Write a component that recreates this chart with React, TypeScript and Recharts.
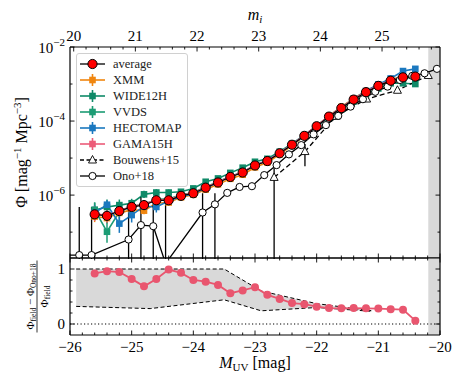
import React from "react";
import {
  ComposedChart,
  Line,
  Area,
  XAxis,
  YAxis,
  ErrorBar,
  ReferenceArea,
  ReferenceLine,
} from "recharts";

const FONT = "'Liberation Serif', 'DejaVu Serif', serif";

// ---- field luminosity functions (log10 Phi), bins in M_UV ----
const magBins = [
  -25.6, -25.4, -25.2, -25.0, -24.8, -24.6, -24.4, -24.2, -24.0, -23.8, -23.6, -23.4, -23.2, -23.0,
  -22.8, -22.6, -22.4, -22.2, -22.0, -21.8, -21.6, -21.4, -21.2, -21.0, -20.8, -20.6, -20.4,
];
const logAverage = [
  -6.52, -6.56, -6.43, -6.32, -6.27, -6.14, -6.14, -6.02, -5.95, -5.8, -5.66, -5.51, -5.39, -5.2,
  -5.08, -4.87, -4.64, -4.4, -4.14, -3.88, -3.65, -3.42, -3.22, -3.05, -2.91, -2.82, -2.8,
];
const logXMM = [
  -6.58, -6.62, -6.48, -6.4, -6.42, -6.22, -6.2, -6.06, -5.99, -5.85, -5.71, -5.56, -5.45, -5.25,
  -5.12, -4.9, -4.66, -4.41, -4.13, -3.86, -3.62, -3.39, -3.19, -3.02, -2.88, -2.8, -2.79,
];
const logWIDE12H = [
  -6.4, -6.32, -6.27, -6.22, -5.98, -5.93, -5.93, -5.91, -5.82, -5.64, -5.55, -5.4, -5.26, -5.1,
  -5.02, -4.83, -4.61, -4.38, -4.13, -3.89, -3.68, -3.47, -3.28, -3.12, -2.98, -2.98, -3.0,
];
const logVVDS = [
  -6.4, -6.99, -6.45, -6.3, -6.25, -6.12, -6.1, -6.0, -5.93, -5.78, -5.64, -5.5, -5.38, -5.19,
  -5.07, -4.86, -4.64, -4.4, -4.15, -3.89, -3.66, -3.43, -3.23, -3.06, -2.92, -2.84, -2.82,
];
const logHECTOMAP = [
  -6.48, -6.26, -6.77, -6.54, -6.3, -6.32, -6.16, -6.04, -5.97, -5.81, -5.66, -5.5, -5.38, -5.19,
  -5.06, -4.86, -4.63, -4.39, -4.13, -3.87, -3.63, -3.4, -3.19, -3.01, -2.85, -2.65, -2.59,
];
const logGAMA15H = [
  -6.5, -6.55, -6.42, -6.3, -6.25, -6.13, -6.12, -6.01, -5.94, -5.79, -5.65, -5.5, -5.38, -5.19,
  -5.07, -4.86, -4.63, -4.39, -4.13, -3.87, -3.64, -3.41, -3.21, -3.04, -2.9, -2.81, -2.79,
];
// errors in dex
const errXMM = [
  0.15, 0.15, 0.12, 0.12, 0.1, 0.09, 0.08, 0.07, 0.06, 0.05, 0.05, 0.04, 0.04, 0.03, 0.03, 0.03,
  0.02, 0.02, 0.02, 0.02, 0.02, 0.02, 0.02, 0.02, 0.02, 0.03, 0.04,
];
const errWIDE12H = [
  0.2, 0.2, 0.15, 0.12, 0.1, 0.09, 0.08, 0.07, 0.06, 0.05, 0.05, 0.04, 0.04, 0.04, 0.03, 0.03, 0.03,
  0.02, 0.02, 0.02, 0.02, 0.02, 0.02, 0.03, 0.03, 0.04, 0.05,
];
const errVVDS = [
  0.2, 0.3, 0.25, 0.15, 0.12, 0.1, 0.09, 0.08, 0.07, 0.06, 0.05, 0.05, 0.04, 0.04, 0.03, 0.03, 0.03,
  0.03, 0.02, 0.02, 0.02, 0.02, 0.03, 0.03, 0.04, 0.05, 0.06,
];
const errHECTOMAP = [
  0.2, 0.12, 0.25, 0.2, 0.15, 0.15, 0.1, 0.08, 0.07, 0.06, 0.05, 0.05, 0.04, 0.04, 0.03, 0.03, 0.03,
  0.02, 0.02, 0.02, 0.02, 0.02, 0.03, 0.03, 0.04, 0.05, 0.06,
];
const errGAMA15H = [
  0.2, 0.2, 0.15, 0.12, 0.1, 0.09, 0.08, 0.07, 0.06, 0.05, 0.05, 0.04, 0.04, 0.04, 0.03, 0.03, 0.03,
  0.02, 0.02, 0.02, 0.02, 0.02, 0.02, 0.03, 0.03, 0.04, 0.05,
];

// ---- Ono+18 (log10 Phi, with error bounds; -14 = runs off the axis) ----
const onoMag = [
  -26.05, -25.85, -25.65, -25.45, -25.25, -25.05, -24.85, -24.65, -24.45, -24.25, -24.05, -23.85,
  -23.65, -23.45, -23.25, -23.05, -22.85, -22.65, -22.45, -22.25, -22.05, -21.85, -21.65, -21.45,
  -21.25, -21.05, -20.85, -20.65, -20.45, -20.25, -20.05,
];
const onoLog = [
  -7.62, -7.62, -7.62, null, null, -7.2, -6.81, -6.84, -7.85, null, null, -6.47, -6.25, -5.94,
  -5.78, -5.76, -5.46, -5.19, -4.9, -4.65, -4.36, -4.11, -3.86, -3.61, -3.41, -3.21, -3.07, -2.89,
  -2.78, -2.71, -2.59,
];
const onoLogHi = [
  -7.62, -6.32, -6.32, null, null, -6.3, -6.05, -6.05, -6.14, null, null, -5.95, -5.95, -5.9,
  -5.74, -5.72, -5.43, -5.16, -4.88, -4.63, -4.34, -4.09, -3.84, -3.59, -3.39, -3.19, -3.05, -2.87,
  -2.76, -2.69, -2.57,
];
const onoLogLo = [
  -7.62, -14, -14, null, null, -14, -14, -14, -14, null, null, -14, -14, -5.98, -5.82, -5.8, -5.49,
  -5.22, -4.92, -4.67, -4.38, -4.13, -3.88, -3.63, -3.43, -3.23, -3.09, -2.91, -2.8, -2.73, -2.61,
];

// ---- Bouwens+15 ----
const bouwensMag = [-22.69, -22.19, -21.69, -21.19, -20.69, -20.19];
const bouwensPhi = [3.0e-6, 1.5e-5, 1.34e-4, 3.93e-4, 6.78e-4, 1.696e-3];
const bouwensErr = [4.0e-6, 9.0e-6, 2.3e-5, 4.0e-5, 6.3e-5, 1.13e-4];

// ---- lower panel ----
const ratioValues = [
  0.92, 0.96, 0.945, 0.82, 0.685, 0.82, 0.99, 0.93, 0.8, 0.77, 0.71, 0.56, 0.61, 0.67, 0.53, 0.455,
  0.38, 0.36, 0.315, 0.29, 0.285, 0.29, 0.285, 0.28, 0.27, 0.26, 0.06,
];
const bandMag = [-25.9, -24.7, -23.5, -22.9, -22.0, -21.1];
const bandUpper = [1.0, 1.0, 1.0, 0.6, 0.37, 0.24];
const bandLower = [0.32, 0.28, 0.44, 0.24, 0.3, 0.23];

// ---- ticks ----
const absMagTicks = [-26, -25, -24, -23, -22, -21, -20];
const appMagTicks = [20, 21, 22, 23, 24, 25];
const MAG_SHIFT = 45.94; // m_i = M_UV + MAG_SHIFT
const phiTicks = [1e-6, 1e-4, 1e-2];
const phiTicksAll = [1e-7, 1e-6, 1e-5, 1e-4, 1e-3, 1e-2];
const ratioTicks = [0, 1];
const ratioTicksAll = [0, 0.2, 0.4, 0.6, 0.8, 1];

const PHI_MIN = 2.0e-8;
const PHI_MAX = 1e-2;
const GRAY = "#d9d9d9";

const COLORS = {
  xmm: "#f0860f",
  wide: "#0f8a68",
  vvds: "#1c9c74",
  hecto: "#1b78bf",
  gama: "#ec5c78",
  ratio: "#e9566f",
};

const absMinorTicks = Array.from({ length: 31 }, (_, i) => Math.round((-26 + i * 0.2) * 10) / 10);
const appMinorTicks = Array.from({ length: 30 }, (_, i) => Math.round((20 + i * 0.2) * 10) / 10 - MAG_SHIFT);

const toPhi = (l: number) => Math.pow(10, l);
const errPair = (l: number, e: number) => [toPhi(l) - toPhi(l - e), toPhi(l + e) - toPhi(l)];

const fieldRows = magBins.map((M, i) => ({
  M,
  avg: toPhi(logAverage[i]),
  xmm: toPhi(logXMM[i]),
  xmmErr: errPair(logXMM[i], errXMM[i]),
  wide: toPhi(logWIDE12H[i]),
  wideErr: errPair(logWIDE12H[i], errWIDE12H[i]),
  vvds: toPhi(logVVDS[i]),
  vvdsErr: errPair(logVVDS[i], errVVDS[i]),
  hecto: toPhi(logHECTOMAP[i]),
  hectoErr: errPair(logHECTOMAP[i], errHECTOMAP[i]),
  gama: toPhi(logGAMA15H[i]),
  gamaErr: errPair(logGAMA15H[i], errGAMA15H[i]),
}));

const onoRows = onoMag.map((M, i) => {
  const l = onoLog[i];
  if (l === null) return { M, phi: null, err: [0, 0] };
  const phi = toPhi(l);
  return {
    M,
    phi,
    err: [phi - toPhi(onoLogLo[i] as number), toPhi(onoLogHi[i] as number) - phi],
  };
});

const bouwensRows = bouwensMag.map((M, i) => {
  const phi = bouwensPhi[i];
  const lo = Math.min(bouwensErr[i], phi * (1 - 1e-8));
  return { M, phi, err: [lo, bouwensErr[i]] };
});

const ratioRows = magBins.map((M, i) => ({ M, ratio: ratioValues[i] }));
const bandRows = bandMag.map((M, i) => ({ M, range: [bandLower[i], bandUpper[i]] }));

const fields = [
  { key: "xmm", label: "XMM", color: COLORS.xmm },
  { key: "wide", label: "WIDE12H", color: COLORS.wide },
  { key: "vvds", label: "VVDS", color: COLORS.vvds },
  { key: "hecto", label: "HECTOMAP", color: COLORS.hecto },
  { key: "gama", label: "GAMA15H", color: COLORS.gama },
];

// ---- tick renderers (ticks point inward, matplotlib style) ----
const TICK_MAJOR = 4.5;
const TICK_MINOR = 2.5;
const near = (a: number, b: number) => Math.abs(a - b) < 1e-6;
const nearLog = (a: number, b: number) => Math.abs(Math.log10(a) - Math.log10(b)) < 1e-6;
const minus = (v: number) => (v < 0 ? `\u2212${Math.abs(v)}` : `${v}`);
const tickStroke = { stroke: "#000", strokeWidth: 0.9 };

const bottomTick = (showLabel: boolean) => (p: any) => {
  const v = p.payload.value;
  const major = absMagTicks.some((t) => near(t, v));
  return (
    <g>
      <line x1={p.x} x2={p.x} y1={p.y} y2={p.y - (major ? TICK_MAJOR : TICK_MINOR)} {...tickStroke} />
      {showLabel && major && (
        <text x={p.x} y={p.y + 17} textAnchor="middle" fontFamily={FONT} fontSize={15} fill="#000">
          {minus(v)}
        </text>
      )}
    </g>
  );
};

const topTick = (showLabel: boolean, majors: number[]) => (p: any) => {
  const v = p.payload.value;
  const major = majors.some((t) => near(t, v));
  return (
    <g>
      <line x1={p.x} x2={p.x} y1={p.y} y2={p.y + (major ? TICK_MAJOR : TICK_MINOR)} {...tickStroke} />
      {showLabel && major && (
        <text x={p.x} y={p.y - 6} textAnchor="middle" fontFamily={FONT} fontSize={15} fill="#000">
          {Math.round(v + MAG_SHIFT)}
        </text>
      )}
    </g>
  );
};

const logTick = (side: "left" | "right") => (p: any) => {
  const v = p.payload.value;
  const major = phiTicks.some((t) => nearLog(t, v));
  const len = major ? TICK_MAJOR : TICK_MINOR;
  const dir = side === "left" ? 1 : -1;
  return (
    <g>
      <line x1={p.x} x2={p.x + dir * len} y1={p.y} y2={p.y} {...tickStroke} />
      {side === "left" && major && (
        <text x={p.x - 5} y={p.y + 6} textAnchor="end" fontFamily={FONT} fontSize={15} fill="#000">
          10
          <tspan dy={-7} fontSize={11}>
            {minus(Math.round(Math.log10(v)))}
          </tspan>
        </text>
      )}
    </g>
  );
};

const ratioTick = (side: "left" | "right") => (p: any) => {
  const v = p.payload.value;
  const major = ratioTicks.some((t) => near(t, v));
  const len = major ? TICK_MAJOR : TICK_MINOR;
  const dir = side === "left" ? 1 : -1;
  return (
    <g>
      <line x1={p.x} x2={p.x + dir * len} y1={p.y} y2={p.y} {...tickStroke} />
      {side === "left" && major && (
        <text x={p.x - 5} y={p.y + 5} textAnchor="end" fontFamily={FONT} fontSize={15} fill="#000">
          {v}
        </text>
      )}
    </g>
  );
};

// ---- markers ----
const squareDot = (color: string) => (p: any) => {
  if (p.cy == null || Number.isNaN(p.cy)) return <g key={p.key} />;
  return <rect key={p.key} x={p.cx - 3.3} y={p.cy - 3.3} width={6.6} height={6.6} fill={color} />;
};
const circleDot = (p: any) => {
  if (p.cy == null || Number.isNaN(p.cy) || p.payload.M < -26) return <g key={p.key} />;
  return <circle key={p.key} cx={p.cx} cy={p.cy} r={3.6} fill="#fff" stroke="#000" strokeWidth={1} />;
};
const triangleDot = (p: any) => {
  if (p.cy == null || Number.isNaN(p.cy)) return <g key={p.key} />;
  const { cx, cy } = p;
  return (
    <polygon
      key={p.key}
      points={`${cx},${cy - 4.5} ${cx - 4},${cy + 3} ${cx + 4},${cy + 3}`}
      fill="#fff"
      stroke="#000"
      strokeWidth={0.9}
    />
  );
};

const axisLine = { stroke: "#000", strokeWidth: 1.2 };

function Swatch({ kind, color }: { kind: string; color?: string }) {
  return (
    <svg width={26} height={16} style={{ display: "block" }}>
      {kind === "avg" && (
        <>
          <line x1={0} x2={25} y1={8} y2={8} stroke="#000" strokeWidth={1.3} />
          <circle cx={12.5} cy={8} r={4.6} fill="#ff0000" stroke="#000" strokeWidth={1} />
        </>
      )}
      {kind === "field" && (
        <>
          <line x1={0} x2={25} y1={8} y2={8} stroke={color} strokeWidth={1.6} />
          <line x1={12.5} x2={12.5} y1={2} y2={14} stroke={color} strokeWidth={1.6} />
          <rect x={9.2} y={4.7} width={6.6} height={6.6} fill={color} />
        </>
      )}
      {kind === "bouwens" && (
        <>
          <line x1={0} x2={25} y1={8} y2={8} stroke="#000" strokeWidth={1.3} strokeDasharray="4 2.5" />
          <polygon points="12.5,3.5 8.5,11 16.5,11" fill="#fff" stroke="#000" strokeWidth={0.9} />
        </>
      )}
      {kind === "ono" && (
        <>
          <line x1={0} x2={25} y1={8} y2={8} stroke="#000" strokeWidth={1.3} />
          <circle cx={12.5} cy={8} r={3.6} fill="#fff" stroke="#000" strokeWidth={1} />
        </>
      )}
    </svg>
  );
}

function LegendBox() {
  const rows = [
    { label: "average", kind: "avg" },
    ...fields.map((f) => ({ label: f.label, kind: "field", color: f.color })),
    { label: "Bouwens+15", kind: "bouwens" },
    { label: "Ono+18", kind: "ono" },
  ];
  return (
    <div
      style={{
        position: "absolute",
        left: 76,
        top: 52.5,
        width: 112,
        height: 134,
        boxSizing: "border-box",
        border: "1px solid #d0d0d0",
        borderRadius: 3,
        background: "rgba(255,255,255,0.85)",
        padding: "2px 0 0 3px",
        fontFamily: FONT,
        fontSize: 12.5,
        color: "#222",
      }}
    >
      {rows.map((r) => (
        <div key={r.label} style={{ display: "flex", alignItems: "center", height: 16 }}>
          <Swatch kind={r.kind} color={(r as any).color} />
          <span style={{ marginLeft: 7, lineHeight: "16px" }}>{r.label}</span>
        </div>
      ))}
    </div>
  );
}

const phiLabel = ({ viewBox }: any) => {
  const x = viewBox.x + 27;
  const y = viewBox.y + viewBox.height / 2;
  return (
    <text
      x={x}
      y={y}
      transform={`rotate(-90 ${x} ${y})`}
      textAnchor="middle"
      fontFamily={FONT}
      fontSize={16}
      fill="#000"
    >
      Φ [mag
      <tspan dy={-6} fontSize={11}>
        −1
      </tspan>
      <tspan dy={6}> Mpc</tspan>
      <tspan dy={-6} fontSize={11}>
        −3
      </tspan>
      <tspan dy={6}>]</tspan>
    </text>
  );
};

const ratioLabel = ({ viewBox }: any) => {
  const x = viewBox.x + 37;
  const y = viewBox.y + viewBox.height / 2;
  return (
    <g transform={`translate(${x} ${y}) rotate(-90)`} fontFamily={FONT} fill="#000">
      <text x={0} y={-3} textAnchor="middle" fontSize={11}>
        Φ<tspan fontSize={7.5} dy={2}>field</tspan>
        <tspan dy={-2}> − Φ</tspan>
        <tspan fontSize={7.5} dy={2}>Ono+18</tspan>
      </text>
      <line x1={-36} x2={36} y1={0} y2={0} stroke="#000" strokeWidth={0.8} />
      <text x={0} y={11} textAnchor="middle" fontSize={11}>
        Φ<tspan fontSize={7.5} dy={2}>field</tspan>
      </text>
    </g>
  );
};

const miLabel = ({ viewBox }: any) => (
  <text x={viewBox.x + viewBox.width / 2} y={20} textAnchor="middle" fontFamily={FONT} fontSize={16} fill="#000">
    <tspan fontStyle="italic">m</tspan>
    <tspan fontStyle="italic" fontSize={11} dy={3}>
      i
    </tspan>
  </text>
);

const muvLabel = ({ viewBox }: any) => (
  <text
    x={viewBox.x + viewBox.width / 2}
    y={viewBox.y + 33}
    textAnchor="middle"
    fontFamily={FONT}
    fontSize={16}
    fill="#000"
  >
    <tspan fontStyle="italic">M</tspan>
    <tspan fontSize={11} dy={3}>
      UV
    </tspan>
    <tspan dy={-3}> [mag]</tspan>
  </text>
);

const MARGIN = { top: 0, right: 0, bottom: 0, left: 0 };

export default function App() {
  return (
    <div style={{ position: "absolute", left: 0, top: 0, width: 463, height: 386, background: "#fff" }}>
      {/* main LF panel */}
      <div style={{ position: "absolute", left: 0, top: 0 }}>
        <ComposedChart width={463} height={259} margin={MARGIN}>
          <XAxis
            xAxisId="b"
            dataKey="M"
            type="number"
            domain={[-26, -20]}
            allowDataOverflow
            ticks={absMinorTicks}
            interval={0}
            height={1}
            tickSize={0}
            tickMargin={0}
            tickLine={false}
            axisLine={axisLine}
            tick={bottomTick(false)}
          />
          <XAxis
            xAxisId="t"
            orientation="top"
            dataKey="M"
            type="number"
            domain={[-26, -20]}
            allowDataOverflow
            ticks={appMinorTicks}
            interval={0}
            height={47}
            tickSize={0}
            tickMargin={0}
            tickLine={false}
            axisLine={axisLine}
            tick={topTick(true, appMagTicks.map((m) => m - MAG_SHIFT))}
            label={{ content: miLabel }}
          />
          <YAxis
            yAxisId="l"
            type="number"
            scale="log"
            domain={[PHI_MIN, PHI_MAX]}
            allowDataOverflow
            ticks={phiTicksAll}
            interval={0}
            width={70}
            tickSize={0}
            tickMargin={0}
            tickLine={false}
            axisLine={axisLine}
            tick={logTick("left")}
            label={{ content: phiLabel }}
          />
          <YAxis
            yAxisId="r"
            orientation="right"
            type="number"
            scale="log"
            domain={[PHI_MIN, PHI_MAX]}
            allowDataOverflow
            ticks={phiTicksAll}
            interval={0}
            width={23}
            tickSize={0}
            tickMargin={0}
            tickLine={false}
            axisLine={axisLine}
            tick={logTick("right")}
          />
          <ReferenceArea
            xAxisId="b"
            yAxisId="l"
            x1={-20.19}
            x2={-20}
            y1={PHI_MIN}
            y2={PHI_MAX}
            fill={GRAY}
            fillOpacity={1}
            stroke="none"
          />

          {fields.map((f) => (
            <Line
              key={f.key}
              xAxisId="b"
              yAxisId="l"
              data={fieldRows}
              dataKey={f.key}
              type="linear"
              stroke={f.color}
              strokeWidth={1.6}
              dot={squareDot(f.color)}
              activeDot={false}
              isAnimationActive={false}
            >
              <ErrorBar dataKey={`${f.key}Err`} direction="y" width={0} stroke={f.color} strokeWidth={1.5} />
            </Line>
          ))}

          <Line
            xAxisId="b"
            yAxisId="l"
            data={bouwensRows}
            dataKey="phi"
            type="linear"
            stroke="#000"
            strokeWidth={1.3}
            strokeDasharray="5 3"
            dot={triangleDot}
            activeDot={false}
            isAnimationActive={false}
          >
            <ErrorBar dataKey="err" direction="y" width={0} stroke="#000" strokeWidth={1.3} />
          </Line>

          <Line
            xAxisId="b"
            yAxisId="l"
            data={onoRows}
            dataKey="phi"
            type="linear"
            connectNulls
            stroke="#000"
            strokeWidth={1.3}
            dot={circleDot}
            activeDot={false}
            isAnimationActive={false}
          >
            <ErrorBar dataKey="err" direction="y" width={0} stroke="#000" strokeWidth={1.3} />
          </Line>

          <Line
            xAxisId="b"
            yAxisId="l"
            data={fieldRows}
            dataKey="avg"
            type="linear"
            stroke="#000"
            strokeWidth={1.2}
            dot={{ r: 4.6, fill: "#ff0000", stroke: "#000", strokeWidth: 1 }}
            activeDot={false}
            isAnimationActive={false}
          />
        </ComposedChart>
      </div>

      {/* ratio panel */}
      <div style={{ position: "absolute", left: 0, top: 257 }}>
        <ComposedChart width={463} height={129} margin={MARGIN} data={bandRows}>
          <XAxis
            xAxisId="b"
            dataKey="M"
            type="number"
            domain={[-26, -20]}
            allowDataOverflow
            ticks={absMinorTicks}
            interval={0}
            height={51}
            tickSize={0}
            tickMargin={0}
            tickLine={false}
            axisLine={axisLine}
            tick={bottomTick(true)}
            label={{ content: muvLabel }}
          />
          <XAxis
            xAxisId="t"
            orientation="top"
            dataKey="M"
            type="number"
            domain={[-26, -20]}
            allowDataOverflow
            ticks={absMinorTicks}
            interval={0}
            height={1}
            tickSize={0}
            tickMargin={0}
            tickLine={false}
            axisLine={axisLine}
            tick={topTick(false, absMagTicks)}
          />
          <YAxis
            yAxisId="l"
            type="number"
            domain={[-0.2, 1.2]}
            allowDataOverflow
            ticks={ratioTicksAll}
            interval={0}
            width={70}
            tickSize={0}
            tickMargin={0}
            tickLine={false}
            axisLine={axisLine}
            tick={ratioTick("left")}
            label={{ content: ratioLabel }}
          />
          <YAxis
            yAxisId="r"
            orientation="right"
            type="number"
            domain={[-0.2, 1.2]}
            allowDataOverflow
            ticks={ratioTicksAll}
            interval={0}
            width={23}
            tickSize={0}
            tickMargin={0}
            tickLine={false}
            axisLine={axisLine}
            tick={ratioTick("right")}
          />
          <ReferenceArea
            xAxisId="b"
            yAxisId="l"
            x1={-20.19}
            x2={-20}
            y1={-0.2}
            y2={1.2}
            fill={GRAY}
            fillOpacity={1}
            stroke="none"
          />
          <Area
            xAxisId="b"
            yAxisId="l"
            dataKey="range"
            type="linear"
            stroke="#000"
            strokeWidth={1}
            strokeDasharray="4 2.5"
            fill={GRAY}
            fillOpacity={1}
            dot={false}
            activeDot={false}
            isAnimationActive={false}
          />
          <ReferenceLine xAxisId="b" yAxisId="l" y={0} stroke="#000" strokeWidth={1.2} strokeDasharray="1.2 2.3" />
          <Line
            xAxisId="b"
            yAxisId="l"
            data={ratioRows}
            dataKey="ratio"
            type="linear"
            stroke={COLORS.ratio}
            strokeWidth={1.8}
            dot={{ r: 4, fill: COLORS.ratio, stroke: "none" }}
            activeDot={false}
            isAnimationActive={false}
          />
        </ComposedChart>
      </div>

      <LegendBox />
    </div>
  );
}
